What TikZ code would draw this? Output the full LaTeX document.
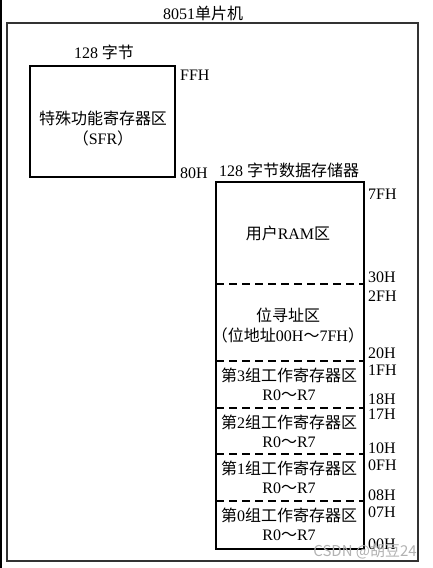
\documentclass[tikz,border=0pt]{standalone}
\usepackage{fontspec}
\setmainfont{Liberation Serif}
\newfontfamily\cjk{Noto Sans CJK SC}
\newcommand\zh[1]{{\cjk #1}}
\usetikzlibrary{positioning}

\begin{document}
\begin{tikzpicture}[x=1pt,y=-1pt,
  font=\fontsize{16}{19}\selectfont,
  box/.style={draw,line width=1.2pt},
  addr/.style={anchor=west,inner sep=0pt},
  txt/.style={inner sep=0pt},
  sep/.style={line width=1.2pt,dash pattern=on 8pt off 5pt}]
\useasboundingbox (0,0) rectangle (433,568);
\fill[black] (0,0) rectangle (2,568);
% outer frame
\coordinate (OTL) at (7,23);
\coordinate (OBR) at (418,561);
\draw[line width=1.8pt,black!80] (OTL) rectangle (OBR);
\node[txt] (chip) at (203,13) {8051\zh{单片机}};
% SFR block
\coordinate (STL) at (30,66);
\coordinate (SBR) at (175,177);
\draw[box] (STL) rectangle (SBR);
\node[txt] (sfrsize) at (104,52) {128 \zh{字节}};
\node[txt] (sfr) at (103,118) {\zh{特殊功能寄存器区}};
\node[txt] (sfrab) at (103,138) {\zh{（}SFR\zh{）}};
\node[addr] (FFH) at (180,75) {FFH};
\node[addr] (80H) at (180,173) {80H};
% data memory
\coordinate (DTL) at (216,182);
\coordinate (DBR) at (364,549);
\draw[box] (DTL) rectangle (DBR);
\node[txt] (ramsize) at (289,170) {128 \zh{字节数据存储器}};
\foreach \y in {284,361,408,454,501}
  \draw[sep] (216,\y) -- (364,\y);
\node[txt] (ram) at (288,233) {\zh{用户}RAM\zh{区}};
\node[txt] (bit) at (288,315) {\zh{位寻址区}};
\node[txt] (bitab) at (288,335) {\zh{（位地址}00H\zh{～}7FH\zh{）}};
\foreach \n/\t in {3/375,2/422,1/468,0/515}{
  \node[txt] (bank\n) at (289,\t) {\zh{第}\n\zh{组工作寄存器区}};
  \node[txt,below=7pt of bank\n] (reg\n) {R0\zh{～}R7};
}
% addresses
\foreach \a/\y in {7FH/194,30H/277,2FH/296,20H/353,1FH/370,18H/399,
  17H/414,10H/448,0FH/465,08H/495,07H/512,00H/544}
  \node[addr] (a\a) at (368,\y) {\a};
% watermark
\node[txt,anchor=east,gray!60,font=\cjk\fontsize{15}{18}\selectfont] (wm) at (417,551) {CSDN @胡豆24};
\end{tikzpicture}
\end{document}
